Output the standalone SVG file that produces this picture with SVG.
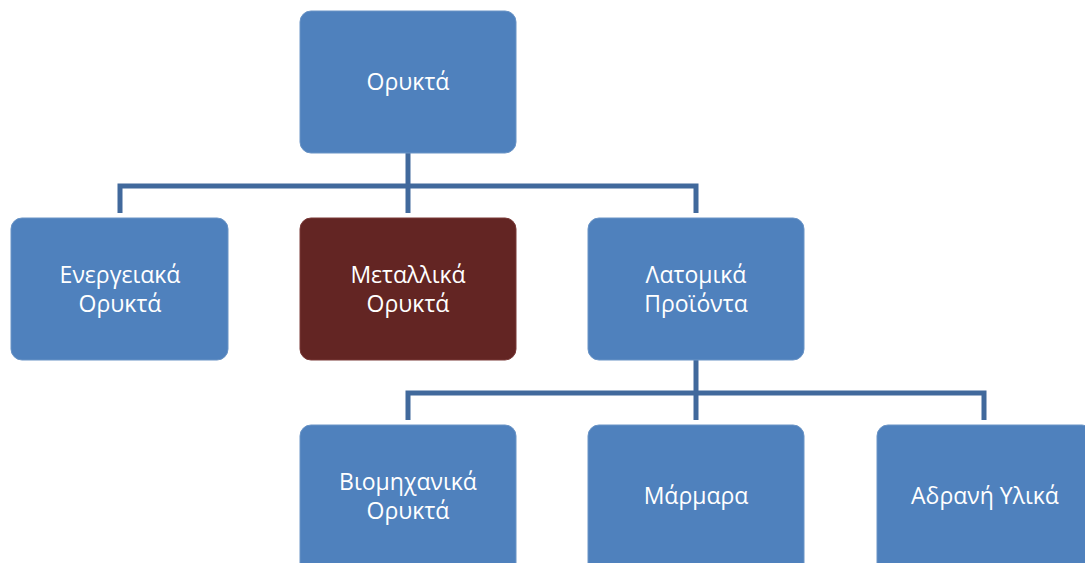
<svg xmlns="http://www.w3.org/2000/svg" width="1085" height="563" viewBox="0 0 1085 563">
<style>
.n{fill:#4F81BD;stroke:#6a94c6;stroke-width:1}
.r{fill:#632523;stroke:#7a3a38;stroke-width:1}
.t{font-family:"Open Sans","Noto Sans","DejaVu Sans",sans-serif;font-size:23px;fill:#ffffff;text-anchor:middle}
.c{fill:none;stroke:#41699c;stroke-width:5;stroke-linejoin:miter}
</style>
<rect width="1085" height="563" fill="#ffffff"/>
<g id="connectors">
<path class="c" d="M408,153 V213"/>
<path class="c" d="M120,213 V186 H696 V213"/>
<path class="c" d="M696,360 V420"/>
<path class="c" d="M408,420 V393 H984 V420"/>
</g>
<g id="n-oryk"><rect class="n" x="300" y="11" width="216" height="142" rx="11"/><text class="t" x="408" y="90">Ορυκτά</text></g>
<g id="n-energ"><rect class="n" x="11" y="218" width="217" height="142" rx="11"/><text class="t" x="120" y="283">Ενεργειακά</text><text class="t" x="120" y="312">Ορυκτά</text></g>
<g id="n-metal"><rect class="r" x="300" y="218" width="216" height="142" rx="11"/><text class="t" x="408" y="283">Μεταλλικά</text><text class="t" x="408" y="312">Ορυκτά</text></g>
<g id="n-latom"><rect class="n" x="588" y="218" width="216" height="142" rx="11"/><text class="t" x="696" y="283">Λατομικά</text><text class="t" x="696" y="312">Προϊόντα</text></g>
<g id="n-viom"><rect class="n" x="300" y="425" width="216" height="150" rx="11"/><text class="t" x="408" y="490">Βιομηχανικά</text><text class="t" x="408" y="519">Ορυκτά</text></g>
<g id="n-marm"><rect class="n" x="588" y="425" width="216" height="150" rx="11"/><text class="t" x="696" y="504">Μάρμαρα</text></g>
<g id="n-adr"><rect class="n" x="877" y="425" width="216" height="150" rx="11"/><text class="t" x="985" y="504">Αδρανή Υλικά</text></g>
</svg>
